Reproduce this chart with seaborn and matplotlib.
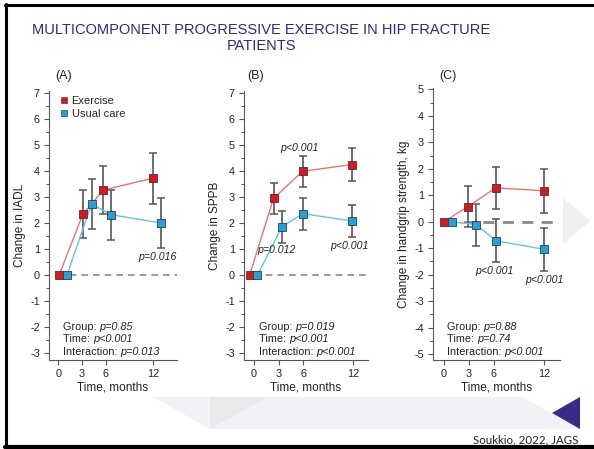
import matplotlib
matplotlib.use('Agg')
import matplotlib.pyplot as plt
import seaborn as sns
import pandas as pd
import numpy as np
from matplotlib.lines import Line2D
from matplotlib.patches import Polygon

# ---- data ----
time_ticks = [0, 3, 6, 12]

# (A) IADL
iadl_ex_t = [0.1, 3.1, 5.7, 12.0]
iadl_ex = [0, 2.35, 3.28, 3.74]
iadl_ex_err = [0, 0.92, 0.93, 0.98]
iadl_uc_t = [1.1, 4.2, 6.7, 13.0]
iadl_uc = [0, 2.74, 2.33, 2.01]
iadl_uc_err = [0, 0.95, 0.97, 0.97]

# (B) SPPB
sppb_ex_t = [-0.5, 2.4, 5.9, 11.85]
sppb_ex = [0, 2.96, 4.0, 4.26]
sppb_ex_err = [0, 0.59, 0.59, 0.62]
sppb_uc_t = [0.45, 3.4, 5.9, 11.85]
sppb_uc = [0, 1.86, 2.37, 2.09]
sppb_uc_err = [0, 0.6, 0.62, 0.62]

# (C) handgrip strength
grip_ex_t = [0, 2.9, 6.2, 12.0]
grip_ex = [0, 0.57, 1.28, 1.17]
grip_ex_err = [0, 0.77, 0.8, 0.83]
grip_uc_t = [0.96, 3.83, 6.3, 12.0]
grip_uc = [0, -0.11, -0.72, -1.04]
grip_uc_err = [0, 0.79, 0.81, 0.82]

stats_labels = ["Group: ", "Time: ", "Interaction: "]
iadl_stats = ["p=0.85", "p<0.001", "p=0.013"]
sppb_stats = ["p=0.019", "p<0.001", "p<0.001"]
grip_stats = ["p=0.88", "p=0.74", "p<0.001"]

RED = '#e0141c'
BLUE = '#1ea3dc'
RED_LINE = '#e87471'
BLUE_LINE = '#66c4e8'
GREY = '#555555'
TITLE_COL = '#2c2a84'

sns.set_style('ticks')
plt.rcParams['font.family'] = ['Liberation Sans', 'DejaVu Sans']
plt.rcParams['axes.unicode_minus'] = False

W, H = 594, 449
fig = plt.figure(figsize=(W / 100, H / 100), dpi=100)
fig.patch.set_facecolor('white')


def fx(px):
    return px / W


def fy(py):
    return 1 - py / H


def px_axes(left, top, right, bottom):
    ax = fig.add_axes([fx(left), fy(bottom), (right - left) / W, (bottom - top) / H])
    ax.set_facecolor('none')
    return ax


# ---- slide decorations ----
def poly(pts, color, z=0):
    fig.patches.append(Polygon([(fx(x), fy(y)) for x, y in pts], closed=True,
                               transform=fig.transFigure, facecolor=color,
                               edgecolor='none', zorder=z))


poly([(153, 397), (522, 397), (580, 429), (210, 429)], '#f2f1f8')
poly([(210, 397), (267, 397), (210, 429)], '#e9e9eb')
poly([(552, 413), (580, 397), (580, 429)], '#3b2a86')
poly([(563, 198), (590, 221), (563, 244)], '#f0f0f0')

for xs, ys, lw in [([5, 594], [4.5, 4.5], 2.2), ([5.5, 5.5], [4, 447], 2.2),
                   ([5, 594], [447, 447], 3.0)]:
    fig.add_artist(Line2D([fx(v) for v in xs], [fy(v) for v in ys], color='black',
                          lw=lw, transform=fig.transFigure))

fig.text(fx(261), fy(38), "MULTICOMPONENT PROGRESSIVE EXERCISE IN HIP FRACTURE\nPATIENTS",
         ha='center', va='center', multialignment='center', fontsize=10.5,
         color=TITLE_COL, linespacing=1.2)
fig.text(fx(578), fy(440), "Soukkio, 2022, JAGS", ha='right', va='center',
         fontsize=8.3, color='#222222', family=['Lato', 'DejaVu Sans'])


def panel(ax, letter, letter_x, ex_t, ex, ex_err, uc_t, uc, uc_err, stats,
          ylabel, ylim, xlim, yticks, stats_x, zero_lw):
    df = pd.concat([
        pd.DataFrame({'t': ex_t, 'v': ex, 'err': ex_err, 'group': 'Exercise'}),
        pd.DataFrame({'t': uc_t, 'v': uc, 'err': uc_err, 'group': 'Usual care'}),
    ], ignore_index=True)

    ax.set_xlim(*xlim)
    ax.set_ylim(*ylim)
    xmin = (0 - xlim[0]) / (xlim[1] - xlim[0])
    ax.axhline(0, xmin=xmin, xmax=1, color='#8a8a8a', lw=zero_lw,
               linestyle=(0, (4, 3)), zorder=0.5)

    for g, lc, mc in [('Exercise', RED_LINE, RED), ('Usual care', BLUE_LINE, BLUE)]:
        d = df[df.group == g]
        e = d.iloc[1:]
        ax.errorbar(e.t, e.v, yerr=e.err, fmt='none', ecolor=GREY, elinewidth=1.2,
                    capsize=3, capthick=1.1, zorder=1)
        sns.lineplot(data=d, x='t', y='v', color=lc, lw=1.0, sort=False,
                     estimator=None, ax=ax, zorder=2)
        sns.scatterplot(data=d, x='t', y='v', color=mc, marker='s', s=36,
                        edgecolor='#3a3a3a', linewidth=0.6, ax=ax, zorder=3)

    ax.set_xticks(time_ticks)
    ax.set_yticks(yticks)
    ax.yaxis.set_minor_locator(matplotlib.ticker.MultipleLocator(0.5))
    ax.tick_params(axis='both', which='major', labelsize=7.8, length=3.5, width=0.8,
                   color=GREY, labelcolor='#222222', pad=3)
    ax.tick_params(axis='y', which='minor', length=2, width=0.7, color=GREY)
    for s in ['left', 'bottom']:
        ax.spines[s].set_color(GREY)
        ax.spines[s].set_linewidth(0.8)
    sns.despine(ax=ax)
    ax.set_xlabel("Time, months", fontsize=8.5, labelpad=2, color='#222222')
    ax.set_ylabel(ylabel, fontsize=8.5, labelpad=3, color='#222222')

    fig.text(fx(letter_x), fy(76), letter, ha='left', va='center', fontsize=9,
             color='#222222')

    for i, (lab, val) in enumerate(zip(stats_labels, stats)):
        t = fig.text(fx(stats_x), fy(327 + 12.4 * i), lab, ha='left', va='center',
                     fontsize=7.8, color='#222222')
        ax.annotate(val, xy=(1, 0.5), xycoords=t, ha='left', va='center',
                    fontsize=7.8, style='italic', color='#222222')


ax_a = px_axes(49, 91, 177, 360)
panel(ax_a, "(A)", 55, iadl_ex_t, iadl_ex, iadl_ex_err, iadl_uc_t, iadl_uc, iadl_uc_err,
      iadl_stats, "Change in IADL", (-3.26, 7.09), (-1.17, 15.0), range(-3, 8), 63, 1.2)
ax_a.text(15.0, 0.69, "p=0.016", ha='right', va='center', fontsize=7.6,
          style='italic', color='#222222')
ax_a.legend(handles=[Line2D([], [], marker='s', ls='none', mfc=RED, mec='#444444', mew=0.5, ms=5),
                     Line2D([], [], marker='s', ls='none', mfc=BLUE, mec='#444444', mew=0.5, ms=5)],
            labels=['Exercise', 'Usual care'], loc='upper left',
            bbox_to_anchor=(fx(61), fy(96)), bbox_transform=fig.transFigure,
            frameon=False, fontsize=8, borderpad=0, borderaxespad=0,
            handlelength=0.6, handletextpad=0.35, labelspacing=0.3)

ax_b = px_axes(244, 91, 368, 360)
panel(ax_b, "(B)", 247, sppb_ex_t, sppb_ex, sppb_ex_err, sppb_uc_t, sppb_uc, sppb_uc_err,
      sppb_stats, "Change in SPPB", (-3.26, 7.09), (-1.17, 13.8), range(-3, 8), 259, 1.2)
for xx, yy, s in [(5.56, 4.91, "p<0.001"), (2.78, 0.96, "p=0.012"), (11.6, 1.14, "p<0.001")]:
    ax_b.text(xx, yy, s, ha='center', va='center', fontsize=7.6, style='italic',
              color='#222222')

ax_c = px_axes(433, 88, 560, 360)
panel(ax_c, "(C)", 439, grip_ex_t, grip_ex, grip_ex_err, grip_uc_t, grip_uc, grip_uc_err,
      grip_stats, "Change in handgrip strength, kg", (-5.22, 5.05), (-1.28, 13.9),
      range(-5, 6), 447, 2.0)
for xx, yy, s in [(6.1, -1.86, "p<0.001"), (12.1, -2.2, "p<0.001")]:
    ax_c.text(xx, yy, s, ha='center', va='center', fontsize=7.6, style='italic',
              color='#222222')

fig.savefig('out.png', dpi=100)
